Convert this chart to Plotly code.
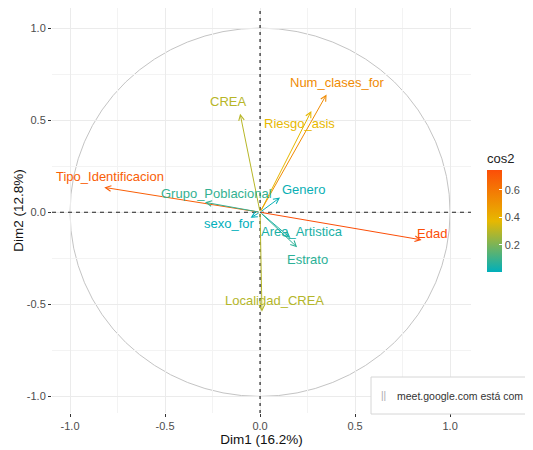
import plotly.graph_objects as go
from plotly.colors import sample_colorscale

# ---- data ----
variables = ["Edad", "Tipo_Identificacion", "Num_clases_for", "Riesgo_asis", "CREA",
             "Localidad_CREA", "Grupo_Poblacional", "Genero", "sexo_for",
             "Area_Artistica", "Estrato"]
dim1 = [0.85, -0.82, 0.35, 0.27, -0.105, 0.01, -0.29, 0.105, -0.05, 0.16, 0.195]
dim2 = [-0.15, 0.135, 0.64, 0.55, 0.535, -0.54, 0.054, 0.08, -0.03, -0.14, -0.19]
# label anchor positions (repelled labels), data units
label_x = [0.905, -0.79, 0.405, 0.21, -0.168, 0.074, -0.23, 0.226, -0.16, 0.22, 0.247]
label_y = [-0.114, 0.196, 0.707, 0.484, 0.603, -0.478, 0.103, 0.125, -0.06, -0.103, -0.255]
x_ticks = [-1.0, -0.5, 0.0, 0.5, 1.0]
y_ticks = [-1.0, -0.5, 0.0, 0.5, 1.0]
cbar_ticks = [0.2, 0.4, 0.6]

cos2 = [a * a + b * b for a, b in zip(dim1, dim2)]
cmin, cmax = min(cos2), max(cos2)
cscale = [[0, "#00AFBB"], [0.5, "#E7B800"], [1, "#FC4E07"]]
colors = sample_colorscale(cscale, [(c - cmin) / (cmax - cmin) for c in cos2])

FONT = "Liberation Sans, Arial, sans-serif"

# page has an 8px body margin; figure is sized so it ends at the window edge
W, H = 525, 442
ML, MR, MT, MB = 44, 62, 0, 37
PW, PH = W - ML - MR, H - MT - MB


def px_x(page_x):
    return (page_x - 8 - ML) / PW


def px_y(page_y):
    return (H - MB - (page_y - 8)) / PH


fig = go.Figure()

# colorbar carrier
fig.add_trace(go.Scatter(
    x=dim1, y=dim2, mode="markers",
    marker=dict(size=0.1, opacity=0, color=cos2, colorscale=cscale, cmin=cmin, cmax=cmax,
                showscale=True,
                colorbar=dict(title=dict(text="cos2", side="top", font=dict(size=13, color="#222", family=FONT)),
                              x=px_x(487), xanchor="left", xpad=0, ypad=0,
                              y=px_y(272), yanchor="bottom", len=122, lenmode="pixels",
                              thickness=15, outlinewidth=0,
                              tickvals=cbar_ticks, ticktext=[f"{t:.1f}" for t in cbar_ticks],
                              ticks="inside", ticklen=3, tickcolor="white",
                              tickfont=dict(size=11, color="#4D4D4D", family=FONT))),
    hoverinfo="skip", showlegend=False))

# arrows from origin
for v, x, y, c in zip(variables, dim1, dim2, colors):
    fig.add_annotation(x=x, y=y, ax=0, ay=0, xref="x", yref="y", axref="x", ayref="y",
                       text="", showarrow=True, arrowhead=5, arrowsize=1.1, arrowwidth=1,
                       arrowcolor=c, standoff=0)

# labels
for v, lx, ly, c in zip(variables, label_x, label_y, colors):
    fig.add_annotation(x=lx, y=ly, xref="x", yref="y", text=v, showarrow=False,
                       font=dict(size=13, color=c, family=FONT))

# circle and dashed axes
fig.add_shape(type="circle", xref="x", yref="y", x0=-1, y0=-1, x1=1, y1=1,
              line=dict(color="#C4C4C4", width=1), layer="below")
fig.add_shape(type="line", xref="x", yref="paper", x0=0, x1=0, y0=0, y1=1,
              line=dict(color="#222", width=1.2, dash="3px,4px"))
fig.add_shape(type="line", xref="paper", yref="y", x0=0, x1=1, y0=0, y1=0,
              line=dict(color="#222", width=1.2, dash="4px,4px"))

# screen overlay seen in the reference
fig.add_shape(type="rect", xref="paper", yref="paper",
              x0=px_x(371), x1=px_x(545), y0=px_y(414), y1=px_y(377),
              line=dict(color="#D6D6D6", width=1), fillcolor="white", layer="above")
fig.add_annotation(xref="paper", yref="paper", x=px_x(379), y=px_y(395),
                   xanchor="left", yanchor="middle", showarrow=False,
                   text="||", font=dict(size=10, color="#AAAAAA", family=FONT))
fig.add_annotation(xref="paper", yref="paper", x=px_x(395), y=px_y(396),
                   xanchor="left", yanchor="middle", showarrow=False,
                   text="meet.google.com está com",
                   font=dict(size=10.5, color="#333", family=FONT))

axis_common = dict(showline=False, zeroline=False, ticks="outside", ticklen=3,
                   tickcolor="#333", tickwidth=1, automargin=False,
                   gridcolor="#EBEBEB", gridwidth=1,
                   tickfont=dict(size=11, color="#4D4D4D", family=FONT),
                   minor=dict(dtick=0.25, tick0=0, showgrid=True, gridcolor="#F3F3F3", gridwidth=0.6, ticks=""))

fig.update_xaxes(range=[-1.095, 1.11], tickvals=x_ticks, ticktext=[f"{t:.1f}" for t in x_ticks],
                 title=dict(text="Dim1 (16.2%)", font=dict(size=13.5, color="#111", family=FONT), standoff=2),
                 **axis_common)
fig.update_yaxes(range=[-1.09, 1.109], tickvals=y_ticks, ticktext=[f"{t:.1f}" for t in y_ticks],
                 title=dict(text="Dim2 (12.8%)", font=dict(size=13.5, color="#111", family=FONT), standoff=0),
                 **axis_common)

fig.update_layout(width=W, height=H, margin=dict(l=ML, r=MR, t=MT, b=MB),
                  plot_bgcolor="white", paper_bgcolor="white", showlegend=False,
                  font=dict(family=FONT))

fig.write_html("out.html")
